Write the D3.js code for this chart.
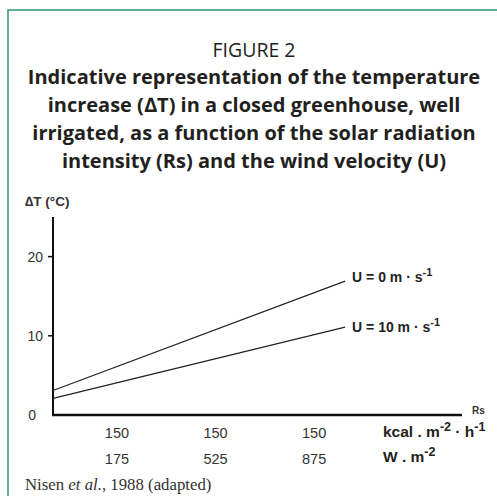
<!DOCTYPE html>
<html>
<head>
<meta charset="utf-8">
<script src="https://cdn.jsdelivr.net/npm/d3@7"></script>
<style>
  body { margin: 0; background: #fff; }
  svg { display: block; }
</style>
</head>
<body>
<div id="chart"></div>
<script>
// data
var titleLines = ['Indicative representation of the temperature',
  'increase (\u2206T) in a closed greenhouse, well',
  'irrigated, as a function of the solar radiation',
  'intensity (Rs) and the wind velocity (U)']
var yTicks = [10, 20]
var rsTicks = [175, 525, 875] // W . m-2
var kcalLabels = ['150', '150', '150']
var rsLine = [-52, 985] // start / end of the lines, W . m-2
var dtU0 = [3.1, 16.9]
var dtU10 = [2.1, 11.1]
var seriesNames = ['0', '10']

var W = 497, H = 496
var svg = d3.select('#chart').append('svg')
  .attr('width', W).attr('height', H)

// green frame
svg.append('rect')
  .attr('x', 8).attr('y', 10)
  .attr('width', 520).attr('height', 520)
  .attr('fill', 'none')
  .attr('stroke', '#3f9a80')
  .attr('stroke-width', 1.6)

svg.append('text')
  .attr('x', 254).attr('y', 57)
  .attr('text-anchor', 'middle')
  .style('font-family', 'Open Sans, sans-serif')
  .style('font-size', '19.5px')
  .attr('fill', '#231f20')
  .text('FIGURE 2')

svg.selectAll('text.title').data(titleLines).enter().append('text')
  .attr('class', 'title')
  .attr('x', 254)
  .attr('y', function (d, i) { return 84 + i * 28 })
  .attr('text-anchor', 'middle')
  .style('font-family', 'Open Sans, sans-serif')
  .style('font-weight', 'bold')
  .style('font-size', '20px')
  .attr('fill', '#231f20')
  .text(function (d) { return d })

var x = d3.scaleLinear().domain([-52, 1400]).range([53, 462])
var y = d3.scaleLinear().domain([0, 25]).range([415, 217])

var g = svg.append('g')
  .style('font-family', 'Liberation Sans, Arial, sans-serif')

// axes
g.append('line')
  .attr('x1', x(-52)).attr('x2', x(-52))
  .attr('y1', y(25)).attr('y2', y(0))
  .attr('stroke', '#111').attr('stroke-width', 2)
g.append('line')
  .attr('x1', x(-52) - 1).attr('x2', x(1400))
  .attr('y1', y(0)).attr('y2', y(0))
  .attr('stroke', '#111').attr('stroke-width', 2.5)

g.selectAll('line.ytick').data(yTicks).enter().append('line')
  .attr('class', 'ytick')
  .attr('x1', x(-52) - 5).attr('x2', x(-52))
  .attr('y1', function (d) { return y(d) })
  .attr('y2', function (d) { return y(d) })
  .attr('stroke', '#111').attr('stroke-width', 1.5)

g.selectAll('text.ytl').data([0].concat(yTicks)).enter().append('text')
  .attr('class', 'ytl')
  .attr('x', function (d) { return d === 0 ? 36 : 43 })
  .attr('y', function (d) { return y(d) + 5 })
  .attr('text-anchor', 'end')
  .style('font-size', '14px')
  .attr('fill', '#333')
  .text(function (d) { return d })

g.append('text')
  .attr('x', 25).attr('y', 206)
  .style('font-size', '13.5px').style('font-weight', 'bold')
  .attr('fill', '#333')
  .text('\u2206T (\u00b0C)')

g.append('text')
  .attr('x', 472).attr('y', 414)
  .style('font-size', '10px').style('font-weight', 'bold')
  .attr('fill', '#333')
  .text('Rs')

// x tick labels, two rows
g.selectAll('text.kcal').data(rsTicks).enter().append('text')
  .attr('class', 'kcal')
  .attr('x', function (d) { return x(d) })
  .attr('y', 438)
  .attr('text-anchor', 'middle')
  .style('font-size', '14.5px')
  .attr('fill', '#333')
  .text(function (d, i) { return kcalLabels[i] })
g.selectAll('text.wm').data(rsTicks).enter().append('text')
  .attr('class', 'wm')
  .attr('x', function (d) { return x(d) })
  .attr('y', 464)
  .attr('text-anchor', 'middle')
  .style('font-size', '14.5px')
  .attr('fill', '#333')
  .text(function (d) { return d })

function unitText (sel, parts) {
  parts.forEach(function (p) {
    var t = sel.append('tspan').text(p[0])
    if (p[1]) t.attr('dy', p[1])
    if (p[2]) t.style('font-size', p[2])
  })
}

var k = g.append('text').attr('x', 383).attr('y', 437)
  .style('font-size', '15.5px').style('font-weight', 'bold').attr('fill', '#222')
unitText(k, [['kcal . m'], ['-2', -6, '12.5px'], [' \u00b7 h', 6], ['-1', -6, '12.5px']])
var w = g.append('text').attr('x', 383).attr('y', 462)
  .style('font-size', '15.5px').style('font-weight', 'bold').attr('fill', '#222')
unitText(w, [['W . m'], ['-2', -6, '12.5px']])

// lines
var line = d3.line()
  .x(function (d) { return x(d[0]) })
  .y(function (d) { return y(d[1]) })
var series = [dtU0, dtU10]
g.selectAll('path.s').data(series).enter().append('path')
  .attr('class', 's')
  .attr('d', function (d) { return line(rsLine.map(function (r, i) { return [r, d[i]] })) })
  .attr('fill', 'none')
  .attr('stroke', '#222')
  .attr('stroke-width', 1.2)

series.forEach(function (s, i) {
  var t = g.append('text')
    .attr('x', x(rsLine[1]) + 7)
    .attr('y', y(s[1]) + (i === 0 ? 1 : 5))
    .style('font-size', '14px').style('font-weight', 'bold').attr('fill', '#222')
  unitText(t, [['U = ' + seriesNames[i] + ' m \u00b7 s'], ['-1', -6, '11px']])
})

// source
var src = svg.append('text')
  .attr('x', 25).attr('y', 490)
  .style('font-family', 'Liberation Serif, serif')
  .style('font-size', '16.8px')
  .attr('fill', '#333')
src.append('tspan').text('Nisen ')
src.append('tspan').style('font-style', 'italic').text('et al.')
src.append('tspan').text(', 1988 (adapted)')
</script>
</body>
</html>
